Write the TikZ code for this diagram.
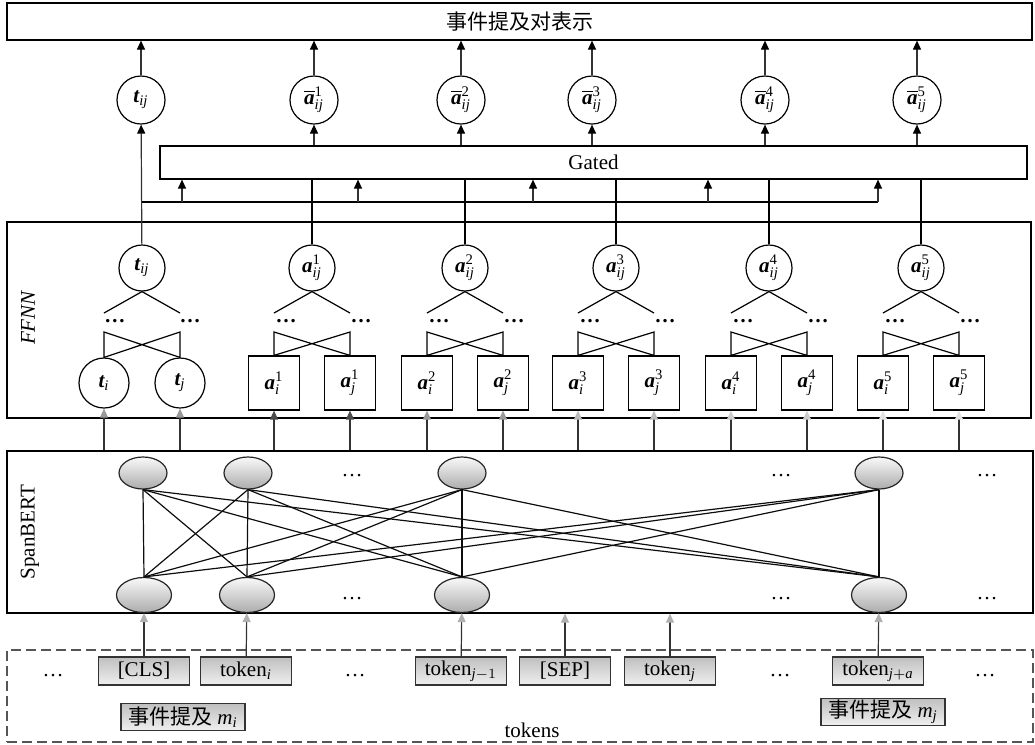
\documentclass[tikz,border=0pt]{standalone}
\usepackage{fontspec}
\usepackage{amsmath}
\setmainfont{Liberation Serif}
\newfontfamily\cjk{Noto Sans CJK SC}
\usetikzlibrary{shapes.geometric, arrows.meta, positioning, calc}
\definecolor{stemgray}{HTML}{333333}
\definecolor{headt}{HTML}{9A9A9A}
\definecolor{headaone}{HTML}{4A4A4A}
\definecolor{headatwo}{HTML}{999999}
\definecolor{headathree}{HTML}{BBBBBB}
\definecolor{headafour}{HTML}{CCCCCC}
\definecolor{headafive}{HTML}{E2E2E2}
\definecolor{headtok}{HTML}{B0B0B0}
\definecolor{dashgray}{HTML}{555555}
\newcommand{\vt}{\mbox{\bfseries\itshape t}}
\newcommand{\va}{\mbox{\bfseries\itshape a}}
\newcommand{\idx}[1]{\text{\itshape #1}}
\tikzset{
  frame/.style={rectangle, draw, inner sep=0pt},
  circ/.style={circle, draw, inner sep=0pt, minimum size=#1},
  circ/.default=24pt,
  sq/.style={rectangle, draw, inner sep=0pt,
    minimum width=25.5pt, minimum height=27pt},
  cell/.style={ellipse, draw=black!85, inner sep=0pt,
    top color=gray!5, bottom color=gray!65,
    minimum width=24pt, minimum height=16pt},
  tok/.style={rectangle, draw=black!80, inner sep=0pt,
    top color=gray!50, bottom color=gray!12,
    minimum width=45.5pt, minimum height=14pt},
  arrow/.style={-{Triangle[length=4.5pt, width=4pt, color=#1, fill=#1]},
    draw=stemgray},
  arrow/.default=black,
  dots/.style={anchor=base, inner sep=0pt}
}
\begin{document}
\begin{tikzpicture}[x=0.5pt, y=-0.5pt, line width=0.6pt,
    font=\fontsize{10.5}{12}\selectfont]
  \useasboundingbox (0,0) rectangle (1035,745);

  % output layer
  \node[frame, minimum width=512.5pt, minimum height=18.5pt] (pair)
    at (519.5,21.5) {\cjk 事件提及对表示};
  \node[circ] (ot) at (141,100) {$\vt_{\idx{ij}}$};
  \foreach \k/\x in {1/314,2/461,3/592,4/765,5/917}
    \node[circ] (oa\k) at (\x,100) {$\overline{\va}{}^{\text{\k}}_{\idx{ij}}$};
  \draw[arrow] (ot) -- (ot |- pair.south);
  \foreach \k in {1,...,5}
    \draw[arrow] (oa\k) -- (oa\k |- pair.south);

  % gate
  \node[frame, minimum width=433.5pt, minimum height=16.5pt] (gated)
    at (593.5,162.5) {Gated};
  \foreach \k in {1,...,5}
    \draw[arrow] (oa\k |- gated.north) -- (oa\k);

  % FFNN
  \node[frame, minimum width=512pt, minimum height=98pt] (ffnn)
    at (519,320) {};
  \node[rotate=90, font=\fontsize{10.5}{12}\selectfont\itshape] (ffnnlabel)
    at (28,318) {FFNN};
  \node[circ=23pt] (ft) at (142,268) {$\vt_{\idx{ij}}$};
  \node[circ=25pt] (ti) at (104,383) {$\vt_{\idx{i}}$};
  \node[circ=25pt] (tj) at (180,383) {$\vt_{\idx{j}}$};
  \coordinate (tl0) at (104,332);
  \coordinate (tr0) at (180,332);
  \draw (tl0) -- (ti.north) -- (tr0) -- (tj.north) -- cycle;
  \draw (ft.south) -- (104,313);
  \draw (ft.south) -- (180,313);
  \node[dots] (dl0) at (115,322) {\textbf{\dots}};
  \node[dots] (dr0) at (190,322) {\textbf{\dots}};
  \foreach \k/\x in {1/312,2/465,3/616,4/769,5/921}{
    \node[circ=23pt] (fa\k) at (\x,268) {$\va^{\text{\k}}_{\idx{ij}}$};
    \node[sq] (ai\k) at (\x-38,383) {$\va^{\text{\k}}_{\idx{i}}$};
    \node[sq] (aj\k) at (\x+38,383) {$\va^{\text{\k}}_{\idx{j}}$};
    \coordinate (tl\k) at (\x-38,332);
    \coordinate (tr\k) at (\x+38,332);
    \draw (tl\k) -- (ai\k.north) -- (tr\k) -- (aj\k.north) -- cycle;
    \draw (fa\k.south) -- (\x-38,313);
    \draw (fa\k.south) -- (\x+38,313);
    \node[dots] (dl\k) at (\x-26,322) {\textbf{\dots}};
    \node[dots] (dr\k) at (\x+49,322) {\textbf{\dots}};
    \draw (fa\k) -- (fa\k |- gated.south);
  }
  \draw[arrow] (ft) -- (ot);
  \coordinate (split) at (142,202);
  \foreach \k/\x in {1/182,2/358,3/533,4/708,5/878}
    \coordinate (g\k) at (\x,202);
  \draw (split) -- (g5);
  \foreach \k in {1,...,5}
    \draw[arrow] (g\k) -- (g\k |- gated.south);

  % SpanBERT
  \node[frame, minimum width=513pt, minimum height=81pt] (span)
    at (520,532) {};
  \node[rotate=90] (spanlabel) at (30,532) {SpanBERT};
  \foreach \k/\x in {1/143,2/248,3/462,4/879}
    \node[cell] (up\k) at (\x,473) {};
  \foreach \k/\x in {1/144,2/247,3/462,4/879}
    \node[cell, minimum width=27.5pt, minimum height=17.5pt] (lo\k)
      at (\x,595) {};
  \foreach \i in {1,...,4}
    \foreach \j in {1,...,4}
      \draw[black!95, line width=0.6pt] (up\i.south) -- (lo\j.north);
  \foreach \x in {352,781,987}{
    \node[dots] at (\x,476) {\dots};
    \node[dots] at (\x,599) {\dots};
  }
  \draw[arrow=headt] (ti |- span.north) -- (ti);
  \draw[arrow=headt] (tj |- span.north) -- (tj);
  \foreach \k/\hc in {1/headaone,2/headatwo,3/headathree,4/headafour,5/headafive}{
    \draw[arrow=\hc] (ai\k |- span.north) -- (ai\k);
    \draw[arrow=\hc] (aj\k |- span.north) -- (aj\k);
  }

  % tokens
  \node[frame, draw=dashgray, dash pattern=on 5pt off 2.5pt,
        minimum width=513pt, minimum height=46pt] (tokens) at (520,696) {};
  \node[tok] (cls) at (144,671) {[CLS]};
  \node[tok] (toki) at (246,671) {token\textsubscript{\itshape i}};
  \node[tok] (tokjm) at (461,671) {token$_{\idx{j}-1}$};
  \node[tok] (sep) at (565,671) {[SEP]};
  \node[tok] (tokj) at (670,671) {token\textsubscript{\itshape j}};
  \node[tok] (tokja) at (878,671) {token$_{\idx{j}+\idx{a}}$};
  \foreach \x in {53,355,780,985}
    \node[dots] at (\x,676) {\dots};
  \node[tok, minimum width=62pt, minimum height=13.5pt] (mi) at (183,717)
    {{\cjk 事件提及} \textit{m}\textsubscript{\itshape i}};
  \node[tok, minimum width=62pt, minimum height=13.5pt] (mj) at (883,712)
    {{\cjk 事件提及} \textit{m}\textsubscript{\itshape j}};
  \node (tokenslabel) at (532,730) {tokens};
  \draw[arrow=headtok] (cls) -- (lo1);
  \draw[arrow=headtok] (toki) -- (lo2);
  \draw[arrow=headtok] (tokjm) -- (lo3);
  \draw[arrow=headtok] (tokja) -- (lo4);
  \draw[arrow=headtok] (sep) -- (sep |- span.south);
  \draw[arrow=headtok] (tokj) -- (tokj |- span.south);
\end{tikzpicture}
\end{document}
